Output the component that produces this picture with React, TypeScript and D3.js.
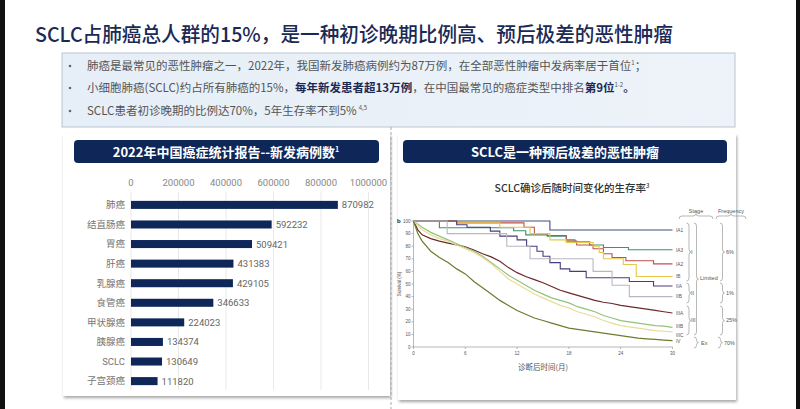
import * as d3 from 'd3';

// left panel: 2022 new cases
const cancers = ['肺癌', '结直肠癌', '胃癌', '肝癌', '乳腺癌', '食管癌', '甲状腺癌', '胰腺癌', 'SCLC', '子宫颈癌'];
const cases = [870982, 592232, 509421, 431383, 429105, 346633, 224023, 134374, 130649, 111820];
const caseTicks = [0, 200000, 400000, 600000, 800000, 1000000];

// right panel: survival by stage (month, %)
const stages = ['IA1', 'IA3', 'IA2', 'IB', 'IIA', 'IIB', 'IIIA', 'IIIB', 'IIIC', 'IV'];
const stageColors = ['#3e4f7a', '#3f9168', '#c0504d', '#e6c84a', '#4b3a7e', '#b8b8c2', '#6b2a2a', '#92c37e', '#e8dc98', '#6f7a2e'];
const ia1 = [[0, 100], [15.8, 92.9], [30, 92.9]];
const ia3 = [[0, 100], [3, 94.7], [11.6, 92.3], [13, 89], [15.5, 88], [17.7, 85], [18.7, 83.5], [20.4, 81], [22, 79], [24.9, 77.2], [30, 77.2]];
const ia2 = [[0, 100], [5, 98.5], [12.8, 95], [14, 90], [15.5, 88.5], [17.7, 84], [18.9, 81], [20.8, 78], [22, 74], [23, 71], [24.6, 68.5], [27.8, 66], [30, 66]];
const ib = [[0, 100], [5, 98.5], [10, 95], [13.5, 90], [15.8, 85], [17.7, 83], [20.8, 80], [21.5, 75], [22, 70], [24.3, 65.5], [25.8, 56], [30, 56]];
const iia = [[0, 100], [5, 97], [6.2, 95], [8.9, 92], [10, 88], [12, 85], [13.1, 80], [14.3, 76], [15, 72], [15.8, 67], [17, 62], [18.1, 60], [20, 55], [25, 52], [27.8, 48.4], [30, 48.4]];
const iib = [[0, 100], [3.9, 90], [10.8, 80], [13.5, 70], [20.8, 60], [23, 49], [25, 40], [30, 40]];
const iiia = [[0, 100], [0.5, 93], [1, 89], [2, 86], [3, 84], [4, 82.5], [5, 81], [6, 79.5], [7, 77], [8, 74], [9, 71.5], [10, 68], [11, 63], [12, 59], [13, 56], [14, 53.5], [15, 51], [16, 48], [17, 45], [18, 43], [19, 41], [20, 39], [21, 37], [22, 35.5], [23, 34.5], [24, 33], [25, 32], [26, 31], [27, 30], [28, 29], [29, 28], [30, 27]];
const iiib = [[0, 100], [1, 95], [2, 91], [3, 88], [4, 85], [5, 82], [6, 79], [7, 76], [8, 72], [9, 67], [10, 62], [11, 57], [12, 53], [13, 49], [14, 45], [15, 42], [16, 39], [17, 37], [18, 35], [19, 32], [20, 30], [21, 28], [22, 25], [23, 23], [24, 21], [25, 20], [26, 19], [27, 18], [28, 17], [29, 16.5], [30, 15.6]];
const iiic = [[0, 100], [1, 93], [2, 89], [3, 86], [4, 84], [5, 81], [6, 78], [7, 75], [8, 71], [9, 66], [10, 60], [11, 54], [12, 50], [13, 46], [14, 42], [15, 39], [16, 36], [17, 33], [18, 31], [19, 28], [20, 26], [21, 24], [22, 21], [23, 19], [24, 17], [25, 16], [26, 15], [27, 14], [28, 13], [29, 12.5], [30, 12]];
const iv = [[0, 100], [0.5, 90], [1, 84], [2, 76], [3, 71], [4, 67], [5, 62], [6, 58], [7, 52], [8, 47], [9, 42], [10, 37], [11, 33], [12, 29], [13, 26], [14, 23], [15, 21], [16, 19], [17, 17], [18, 15], [19, 14], [20, 13], [21, 12], [22, 11], [23, 10], [24, 9], [25, 8], [26, 7], [27, 6.5], [28, 6], [29, 5.5], [30, 5]];
const curves = [ia1, ia3, ia2, ib, iia, iib, iiia, iiib, iiic, iv];
const stepped = [true, true, true, true, true, true, false, false, false, false];
const monthTicks = [0, 6, 12, 18, 24, 30];
const survTicks = [0, 10, 20, 30, 40, 50, 60, 70, 80, 90, 100];

const NAVY = '#0e2758';
const CJK = '"Noto Sans CJK SC", "Noto Sans", sans-serif';

function braceV(x: number, y1: number, y2: number, w: number) {
  const ym = (y1 + y2) / 2;
  const r = Math.min(3, (y2 - y1) / 4);
  return `M${x},${y1} Q${x + w},${y1} ${x + w},${y1 + r} L${x + w},${ym - r} Q${x + w},${ym} ${x + w * 1.8},${ym} Q${x + w},${ym} ${x + w},${ym + r} L${x + w},${y2 - r} Q${x + w},${y2} ${x},${y2}`;
}
function braceH(x1: number, x2: number, y: number, h: number) {
  const xm = (x1 + x2) / 2;
  const r = 3;
  return `M${x1},${y} Q${x1},${y - h} ${x1 + r},${y - h} L${xm - r},${y - h} Q${xm},${y - h} ${xm},${y - h * 1.8} Q${xm},${y - h} ${xm + r},${y - h} L${x2 - r},${y - h} Q${x2},${y - h} ${x2},${y}`;
}

export default function App() {
  // bar chart scales
  const x = d3.scaleLinear().domain([0, 1000000]).range([131, 368.5]);
  const y = d3.scaleBand().domain(cancers).range([195, 391]).paddingInner(0.59).paddingOuter(0.3);

  // survival scales
  const sx = d3.scaleLinear().domain([0, 30]).range([413.5, 672.5]);
  const sy = d3.scaleLinear().domain([0, 100]).range([347, 221]);
  const stepLine = d3.line<number[]>().x((d) => sx(d[0])).y((d) => sy(d[1])).curve(d3.curveStepAfter);
  const smoothLine = d3.line<number[]>().x((d) => sx(d[0])).y((d) => sy(d[1])).curve(d3.curveLinear);

  const labelY = (i: number) => sy(curves[i][curves[i].length - 1][1]);
  const labelOffsets = [0, 0, 0, 0, 0, 0, 0, -0.5, 1, 0];

  return (
    <svg width={800} height={409} style={{ position: 'fixed', left: 0, top: 0, background: '#fff' }} fontFamily={CJK}>
      <defs>
        <linearGradient id="boxg" x1="0" x2="1" y1="0" y2="0">
          <stop offset="0" stopColor="#e6eef7" />
          <stop offset="1" stopColor="#edf3f9" />
        </linearGradient>
        <filter id="shadow" x="-5%" y="-5%" width="112%" height="115%">
          <feDropShadow dx="1" dy="2" stdDeviation="1.5" floodColor="#000" floodOpacity="0.35" />
        </filter>
      </defs>
      <rect x={0} y={0} width={800} height={409} fill="#fff" />
      <rect x={0} y={0} width={5} height={409} fill="#111" />
      <rect x={796} y={0} width={4} height={409} fill="#111" />

      {/* title */}
      <text x={35} y={42} fontSize={20.5} fontWeight={500} fill="#1b2a55" textLength={638} lengthAdjust="spacingAndGlyphs">
        SCLC占肺癌总人群的15%，是一种初诊晚期比例高、预后极差的恶性肿瘤
      </text>

      {/* bullet box */}
      <rect x={62} y={53} width={673} height={74} fill="url(#boxg)" stroke="#b9c5d2" strokeWidth={1} />
      <g fontSize={11.5} fill="#555">
        <circle cx={70} cy={66} r={1.3} fill="#666" />
        <text x={87} y={70}>
          肺癌是最常见的恶性肿瘤之一，2022年，我国新发肺癌病例约为87万例，在全部恶性肿瘤中发病率居于首位<tspan fontSize={6} dy={-5}>1</tspan><tspan dy={5}>；</tspan>
        </text>
        <circle cx={70} cy={88} r={1.3} fill="#666" />
        <text x={87} y={92}>
          小细胞肺癌(SCLC)约占所有肺癌的15%，<tspan fontWeight={700} fill="#1b2a55">每年新发患者超13万例</tspan>，在中国最常见的癌症类型中排名<tspan fontWeight={700} fill="#1b2a55">第9位</tspan><tspan fontSize={6} dy={-5}>1-2</tspan><tspan dy={5} fontWeight={700} fill="#1b2a55">。</tspan>
        </text>
        <circle cx={70} cy={111} r={1.3} fill="#666" />
        <text x={87} y={115}>
          SCLC患者初诊晚期的比例达70%，5年生存率不到5%<tspan fontSize={6} dy={-5} dx={2}>4,5</tspan>
        </text>
      </g>

      {/* cards */}
      <rect x={63} y={134} width={327} height={262} fill="#fff" filter="url(#shadow)" />
      <rect x={398} y={134} width={338} height={266} fill="#fff" filter="url(#shadow)" />
      <line x1={391} x2={391} y1={127} y2={409} stroke="#aaa" strokeDasharray="3,2" />

      {/* left header */}
      <rect x={74} y={140} width={305} height={23} rx={4} fill={NAVY} />
      <text x={226} y={156.5} textAnchor="middle" fontSize={13} fontWeight={700} fill="#fff">
        2022年中国癌症统计报告--新发病例数<tspan fontSize={7} dy={-5}>1</tspan>
      </text>

      {/* bar chart */}
      <g fontFamily="Roboto, sans-serif" fontSize={9.5} fill="#888">
        {caseTicks.map((t) => (
          <g key={t}>
            <line x1={x(t)} x2={x(t)} y1={192} y2={390} stroke="#e8e8e8" />
            <text x={x(t)} y={186} textAnchor="middle">{t}</text>
          </g>
        ))}
      </g>
      {cancers.map((c, i) => (
        <g key={c}>
          <rect x={x(0)} y={y(c)!} width={x(cases[i]) - x(0)} height={y.bandwidth()} fill={NAVY} />
          <text x={125} y={y(c)! + y.bandwidth() / 2 + 3.3} textAnchor="end" fontSize={9.5} fill="#777"
            fontFamily={c === 'SCLC' ? 'Roboto, sans-serif' : CJK}>{c}</text>
          <text x={x(cases[i]) + 4} y={y(c)! + y.bandwidth() / 2 + 3.5} fontSize={9.5} fill="#666" fontFamily="Roboto, sans-serif">
            {cases[i]}
          </text>
        </g>
      ))}

      {/* right header */}
      <rect x={403} y={140} width={324} height={23} rx={4} fill={NAVY} />
      <text x={565} y={156.5} textAnchor="middle" fontSize={13} fontWeight={700} fill="#fff">
        SCLC是一种预后极差的恶性肿瘤
      </text>
      <text x={572} y={192} textAnchor="middle" fontSize={10.5} fontWeight={500} fill="#333">
        SCLC确诊后随时间变化的生存率<tspan fontSize={6} dy={-4}>3</tspan>
      </text>

      {/* survival chart */}
      <g stroke="#888" strokeWidth={0.6}>
        <line x1={sx(0)} x2={sx(0)} y1={sy(100)} y2={sy(0)} />
        <line x1={sx(0)} x2={sx(30)} y1={sy(0)} y2={sy(0)} />
        {survTicks.map((t) => <line key={t} x1={sx(0) - 2} x2={sx(0)} y1={sy(t)} y2={sy(t)} />)}
        {monthTicks.map((t) => <line key={t} x1={sx(t)} x2={sx(t)} y1={sy(0)} y2={sy(0) + 2} />)}
      </g>
      <g fontSize={4.5} fill="#555" fontFamily="Liberation Sans, sans-serif">
        {survTicks.map((t) => (
          <text key={t} x={sx(0) - 3} y={sy(t) + 1.5} textAnchor="end">{t}</text>
        ))}
        {monthTicks.map((t) => (
          <text key={t} x={sx(t)} y={sy(0) + 8} textAnchor="middle">{t}</text>
        ))}
        <text transform={`translate(401,${sy(50)}) rotate(-90)`} textAnchor="middle" fontSize={4.5}>Survival (%)</text>
        <text x={397} y={223} fontSize={6} fontWeight={700} fill="#222">b</text>
      </g>
      <text x={543} y={370} textAnchor="middle" fontSize={7.5} fill="#555">诊断后时间(月)</text>

      {curves.map((c, i) => (
        <path key={stages[i]} d={(stepped[i] ? stepLine : smoothLine)(c as any)!} fill="none" stroke={stageColors[i]}
          strokeWidth={stepped[i] ? 1.1 : 1.2} />
      ))}
      <g fontSize={4.8} fill="#555" fontFamily="Liberation Sans, sans-serif">
        {stages.map((s, i) => (
          <text key={s} x={sx(30) + 3.5} y={labelY(i) + 1.8 + labelOffsets[i] * 3}>{s}</text>
        ))}
      </g>

      {/* stage / frequency annotation */}
      <g fill="none" stroke="#999" strokeWidth={0.7}>
        <path d={braceH(679, 713, 219, 3)} />
        <path d={braceH(716, 746, 219, 3)} />
        <path d={braceV(686.5, 223, 281, 2.5)} />
        <path d={braceV(686.5, 283, 303, 2.5)} />
        <path d={braceV(686.5, 306, 335, 2.5)} />
        <path d={braceV(694, 223, 335, 2.5)} />
        <path d={braceV(694, 337, 348, 2.5)} />
        <path d={braceV(720, 223, 281, 2.5)} />
        <path d={braceV(720, 283, 303, 2.5)} />
        <path d={braceV(720, 306, 335, 2.5)} />
        <path d={braceV(718, 337, 348, 2.5)} />
      </g>
      <g fontSize={5.5} fill="#555" fontFamily="Liberation Sans, sans-serif">
        <text x={696} y={213} textAnchor="middle">Stage</text>
        <text x={731} y={213} textAnchor="middle">Frequency</text>
        <text x={691} y={254}>I</text>
        <text x={691} y={295}>II</text>
        <text x={691} y={322}>III</text>
        <text x={700} y={280}>Limited</text>
        <text x={701} y={345}>Ex</text>
        <text x={726} y={254}>6%</text>
        <text x={726} y={295}>1%</text>
        <text x={726} y={322}>25%</text>
        <text x={724} y={345}>70%</text>
      </g>
    </svg>
  );
}
